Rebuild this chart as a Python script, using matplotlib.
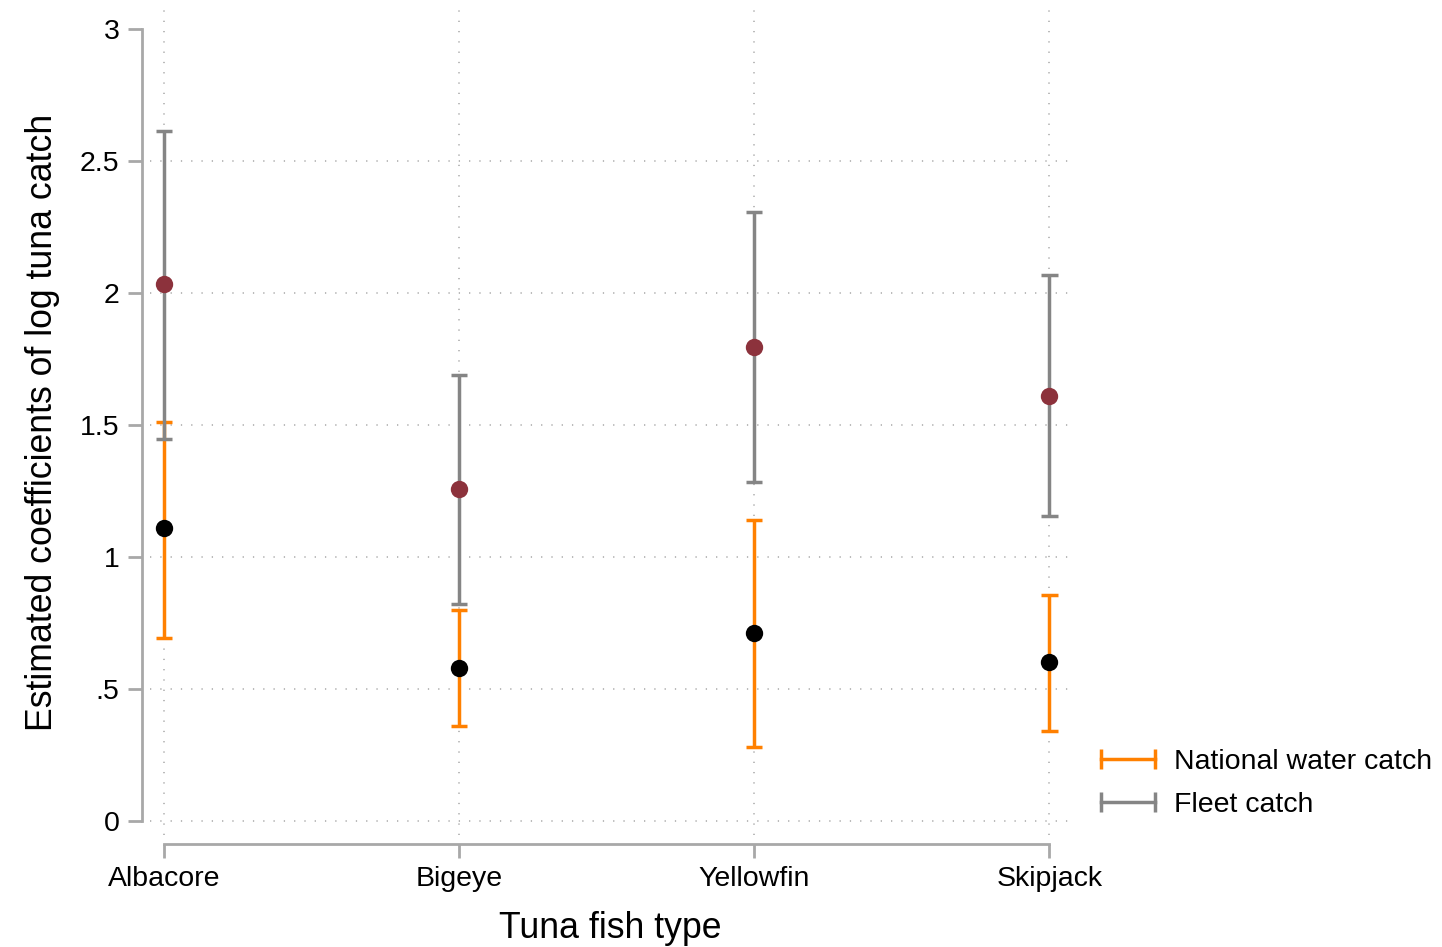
import matplotlib.pyplot as plt
from matplotlib.lines import Line2D
import numpy as np

plt.rcParams['font.family'] = ['Liberation Sans', 'DejaVu Sans']

# data
species = ['Albacore', 'Bigeye', 'Yellowfin', 'Skipjack']
national_coef = [1.108, 0.579, 0.710, 0.600]
national_lo = [0.694, 0.361, 0.279, 0.342]
national_hi = [1.512, 0.798, 1.140, 0.857]
fleet_coef = [2.036, 1.257, 1.795, 1.611]
fleet_lo = [1.449, 0.821, 1.283, 1.155]
fleet_hi = [2.616, 1.691, 2.308, 2.068]
ytick_vals = [0, 0.5, 1, 1.5, 2, 2.5, 3]
ytick_labels = ['0', '.5', '1', '1.5', '2', '2.5', '3']

orange = '#ff8000'
gray = '#858585'
maroon = '#8c323c'
axis_gray = '#a8a8a8'
grid_gray = '#b4b4b4'

fig = plt.figure(figsize=(14.42, 9.47), dpi=100)
ax = fig.add_axes([0.104, 0.118, 0.638, 0.871])

x = np.arange(1, len(species) + 1)
cap = 0.028

# national water catch
ax.vlines(x, national_lo, national_hi, color=orange, lw=2.5, zorder=3)
ax.hlines(national_lo, x - cap, x + cap, color=orange, lw=2.5, zorder=3)
ax.hlines(national_hi, x - cap, x + cap, color=orange, lw=2.5, zorder=3)

# fleet catch
ax.vlines(x, fleet_lo, fleet_hi, color=gray, lw=2.5, zorder=4)
ax.hlines(fleet_lo, x - cap, x + cap, color=gray, lw=2.5, zorder=4)
ax.hlines(fleet_hi, x - cap, x + cap, color=gray, lw=2.5, zorder=4)

ax.plot(x, national_coef, 'o', color='black', ms=12.5, mec='none', zorder=5)
ax.plot(x, fleet_coef, 'o', color=maroon, ms=12.5, mec='none', zorder=5)

ax.set_xlim(0.953, 4.07)
ax.set_ylim(-0.055, 3.072)

ax.set_xticks(x)
ax.set_xticklabels(species)
ax.set_yticks(ytick_vals)
ax.set_yticklabels(ytick_labels)

for s in ['top', 'right']:
    ax.spines[s].set_visible(False)
ax.spines['left'].set_position(('outward', 6))
ax.spines['bottom'].set_position(('outward', 6))
ax.spines['left'].set_bounds(0, 3)
ax.spines['bottom'].set_bounds(1, 4)
for s in ['left', 'bottom']:
    ax.spines[s].set_color(axis_gray)
    ax.spines[s].set_linewidth(2)

ax.tick_params(axis='both', colors=axis_gray, width=2, length=10,
               labelsize=20.5, labelcolor='black')
ax.tick_params(axis='y', pad=6)
ax.tick_params(axis='x', pad=6)

# dotted grid, no line at the top tick
for yv in ytick_vals[:-1]:
    ax.axhline(yv, color=grid_gray, lw=1.3, ls=(0, (0.7, 5)), zorder=1)
for xv in x:
    ax.axvline(xv, color=grid_gray, lw=1.3, ls=(0, (0.7, 5)), zorder=1)

ax.set_xlabel('Tuna fish type', fontsize=25.7, labelpad=14)
ax.set_ylabel('Estimated coefficients of log tuna catch', fontsize=25.7, labelpad=14)

handles = [
    Line2D([0, 1], [0, 0], color=orange, lw=2.5, marker='|', ms=14, mew=2.5),
    Line2D([0, 1], [0, 0], color=gray, lw=2.5, marker='|', ms=14, mew=2.5),
]
fig.legend(handles, ['National water catch', 'Fleet catch'],
           loc='upper left', bbox_to_anchor=(0.740, 0.236), frameon=False,
           fontsize=20.5, numpoints=2, handlelength=2.5, handletextpad=0.36,
           labelspacing=0.6)

fig.savefig('out.png', dpi=100)
